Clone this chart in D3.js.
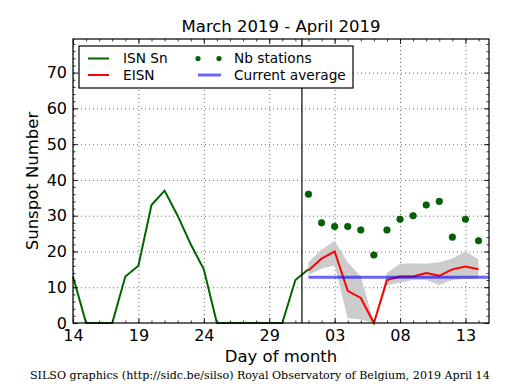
<!DOCTYPE html>
<head>
  <meta charset="UTF-8">
  <style>
    *{ margin: 0px; }
    body{ background-color: white; }
    svg{ font-family: "DejaVu Sans"; }
    .grid line{ stroke: black; stroke-width: 0.6px; stroke-dasharray: 1,3; }
    .grid path, .ticks path{ display: none; }
    .ticks line{ stroke: black; stroke-width: 0.8px; }
    .ticks text{ font-family: "DejaVu Sans"; font-size: 16px; fill: black; }
  </style>
  <script src="https://d3js.org/d3.v7.min.js"></script>
</head>
<body>
  <svg id="chart" width="515" height="390"></svg>
  <script>
    // daily ISN (Sn) values, March 14 to April 1
    var isnDates = ["2019-03-14","2019-03-15","2019-03-16","2019-03-17","2019-03-18","2019-03-19",
      "2019-03-20","2019-03-21","2019-03-22","2019-03-23","2019-03-24","2019-03-25","2019-03-26",
      "2019-03-27","2019-03-28","2019-03-29","2019-03-30","2019-03-31","2019-04-01"];
    var isnValues = [13, 0, 0, 0, 13, 16, 33, 37, 30, 22, 15, 0, 0, 0, 0, 0, 0, 12, 15];

    // estimated ISN (EISN), stations and spread, April 1 to April 14
    var eisnDates = ["2019-04-01","2019-04-02","2019-04-03","2019-04-04","2019-04-05","2019-04-06",
      "2019-04-07","2019-04-08","2019-04-09","2019-04-10","2019-04-11","2019-04-12","2019-04-13","2019-04-14"];
    var eisnValues = [14.7, 18, 20, 9, 7, 0, 12, 13, 13, 14, 13.2, 15, 15.8, 15];
    var eisnUpper = [17, 20.5, 23, 17, 13, 0, 14, 16.6, 16.7, 16.6, 17, 18, 20, 17.8];
    var eisnLower = [13.4, 15.2, 16.1, 1.3, 1.0, 0, 10.5, 11.3, 12, 12, 10.6, 12, 12.4, 12.5];
    var stations = [36, 28, 27, 27, 26, 19, 26, 29, 30, 33, 34, 24, 29, 23];
    var currentAverage = 12.8;

    var tickDates = ["2019-03-14","2019-03-19","2019-03-24","2019-03-29","2019-04-03","2019-04-08","2019-04-13"];
    var tickLabels = ["14", "19", "24", "29", "03", "08", "13"];
    var yTicks = [0, 10, 20, 30, 40, 50, 60, 70];

    var parse = d3.utcParse("%Y-%m-%d");
    var pLeft = 73, pRight = 489, pTop = 39, pBottom = 323;

    var svg = d3.select("#chart");

    var x = d3.scaleUtc()
      .domain([parse("2019-03-14"), new Date(Date.UTC(2019, 3, 14, 19, 12))])
      .range([pLeft, pRight]);
    var y = d3.scaleLinear()
      .domain([0, 79.4])
      .range([pBottom, pTop]);

    var majorX = tickDates.map(parse);
    var minorX = d3.utcDay.range(x.domain()[0], x.domain()[1]);
    var minorY = d3.range(0, 79.4, 2);

    // grid
    svg.append("g").attr("class", "grid")
      .attr("transform", "translate(0," + pBottom + ")")
      .call(d3.axisBottom(x).tickValues(majorX).tickSize(-(pBottom - pTop)).tickFormat(""));
    svg.append("g").attr("class", "grid")
      .attr("transform", "translate(" + pLeft + ",0)")
      .call(d3.axisLeft(y).tickValues(yTicks.slice(1)).tickSize(-(pRight - pLeft)).tickFormat(""));

    // spread of the estimate
    var band = eisnDates.map((d, i) => ({date: parse(d), hi: eisnUpper[i], lo: eisnLower[i]}));
    svg.append("path")
      .datum(band)
      .attr("fill", "#cccccc")
      .attr("d", d3.area().x(d => x(d.date)).y0(d => y(d.lo)).y1(d => y(d.hi)));

    // ISN line
    svg.append("path")
      .datum(isnDates.map((d, i) => ({date: parse(d), v: isnValues[i]})))
      .attr("fill", "none")
      .attr("stroke", "#006400")
      .attr("stroke-width", 2)
      .attr("d", d3.line().x(d => x(d.date)).y(d => y(d.v)));

    // EISN line
    svg.append("path")
      .datum(eisnDates.map((d, i) => ({date: parse(d), v: eisnValues[i]})))
      .attr("fill", "none")
      .attr("stroke", "red")
      .attr("stroke-width", 2)
      .attr("d", d3.line().x(d => x(d.date)).y(d => y(d.v)));

    // number of stations
    svg.append("g")
      .selectAll("circle")
      .data(eisnDates.map((d, i) => ({date: parse(d), v: stations[i]})))
      .enter()
      .append("circle")
      .attr("cx", d => x(d.date))
      .attr("cy", d => y(d.v))
      .attr("r", 3.3)
      .attr("fill", "#006400")
      .attr("stroke", "#004a00")
      .attr("stroke-width", 0.6);

    // current average
    svg.append("line")
      .attr("x1", x(parse(eisnDates[0])))
      .attr("x2", x(x.domain()[1]))
      .attr("y1", y(currentAverage))
      .attr("y2", y(currentAverage))
      .attr("stroke", "blue")
      .attr("stroke-opacity", 0.6)
      .attr("stroke-width", 3);

    // end of month marker
    var monthEnd = new Date(Date.UTC(2019, 2, 31, 12));
    svg.append("line")
      .attr("x1", x(monthEnd)).attr("x2", x(monthEnd))
      .attr("y1", pTop).attr("y2", pBottom)
      .attr("stroke", "black")
      .attr("stroke-width", 1.2);

    // ticks on all four sides, pointing in
    svg.append("g").attr("class", "ticks")
      .attr("transform", "translate(0," + pBottom + ")")
      .call(d3.axisBottom(x).tickValues(minorX).tickSize(-2.5).tickFormat(""));
    svg.append("g").attr("class", "ticks")
      .attr("transform", "translate(0," + pTop + ")")
      .call(d3.axisTop(x).tickValues(minorX).tickSize(-2.5).tickFormat(""));
    svg.append("g").attr("class", "ticks")
      .attr("transform", "translate(" + pLeft + ",0)")
      .call(d3.axisLeft(y).tickValues(minorY).tickSize(-2.5).tickFormat(""));
    svg.append("g").attr("class", "ticks")
      .attr("transform", "translate(" + pRight + ",0)")
      .call(d3.axisRight(y).tickValues(minorY).tickSize(-2.5).tickFormat(""));

    svg.append("g").attr("class", "ticks")
      .attr("transform", "translate(0," + pBottom + ")")
      .call(d3.axisBottom(x).tickValues(majorX).tickSize(-5).tickPadding(6.6)
        .tickFormat((d, i) => tickLabels[i]));
    svg.append("g").attr("class", "ticks")
      .attr("transform", "translate(0," + pTop + ")")
      .call(d3.axisTop(x).tickValues(majorX).tickSize(-5).tickFormat(""));
    svg.append("g").attr("class", "ticks")
      .attr("transform", "translate(" + pLeft + ",0)")
      .call(d3.axisLeft(y).tickValues(yTicks).tickSize(-5).tickPadding(6));
    svg.append("g").attr("class", "ticks")
      .attr("transform", "translate(" + pRight + ",0)")
      .call(d3.axisRight(y).tickValues(yTicks).tickSize(-5).tickFormat(""));

    // frame
    svg.append("rect")
      .attr("x", pLeft).attr("y", pTop)
      .attr("width", pRight - pLeft).attr("height", pBottom - pTop)
      .attr("fill", "none")
      .attr("stroke", "black")
      .attr("stroke-width", 1.2);

    // legend
    var legend = svg.append("g").attr("transform", "translate(79, 46)");
    legend.append("rect")
      .attr("width", 274).attr("height", 42)
      .attr("fill", "white").attr("stroke", "black").attr("stroke-width", 1.2);
    legend.append("line").attr("x1", 9).attr("x2", 30).attr("y1", 12.5).attr("y2", 12.5)
      .attr("stroke", "#006400").attr("stroke-width", 2);
    legend.append("line").attr("x1", 9).attr("x2", 30).attr("y1", 29).attr("y2", 29)
      .attr("stroke", "red").attr("stroke-width", 2);
    legend.append("circle").attr("cx", 119).attr("cy", 12.5).attr("r", 2.6).attr("fill", "#006400");
    legend.append("circle").attr("cx", 140).attr("cy", 12.5).attr("r", 2.6).attr("fill", "#006400");
    legend.append("line").attr("x1", 119).attr("x2", 142).attr("y1", 29).attr("y2", 29)
      .attr("stroke", "blue").attr("stroke-opacity", 0.6).attr("stroke-width", 3);
    var legendText = [["ISN Sn", 44, 12.5], ["EISN", 44, 29], ["Nb stations", 155, 12.5], ["Current average", 155, 29]];
    legend.selectAll("text.lbl")
      .data(legendText)
      .enter()
      .append("text")
      .attr("x", d => d[1]).attr("y", d => d[2])
      .attr("dy", "0.36em")
      .attr("font-size", "13.7px")
      .text(d => d[0]);

    // titles
    svg.append("text")
      .attr("x", (pLeft + pRight) / 2).attr("y", 32)
      .attr("text-anchor", "middle").attr("font-size", "16.5px")
      .text("March 2019 - April 2019");
    svg.append("text")
      .attr("x", (pLeft + pRight) / 2).attr("y", 362)
      .attr("text-anchor", "middle").attr("font-size", "16.5px")
      .text("Day of month");
    svg.append("text")
      .attr("transform", "translate(38," + (pTop + pBottom) / 2 + ") rotate(-90)")
      .attr("text-anchor", "middle").attr("font-size", "16.5px")
      .text("Sunspot Number");
    svg.append("text")
      .attr("x", 30).attr("y", 379)
      .attr("font-family", "DejaVu Serif").attr("font-size", "11.1px")
      .text("SILSO graphics (http://sidc.be/silso) Royal Observatory of Belgium, 2019 April 14");
  </script>
</body>
